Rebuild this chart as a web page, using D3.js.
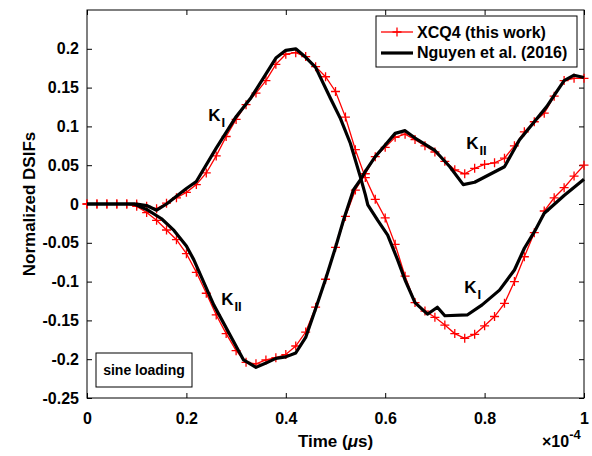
<!DOCTYPE html>
<html>
<head>
<meta charset="utf-8">
<script src="https://cdn.jsdelivr.net/npm/d3@7"></script>
<style>
  body { margin: 0; background: #fff; }
  svg { display: block; font-family: "Liberation Sans", Arial, sans-serif; font-weight: bold; }
</style>
</head>
<body>
<svg width="592" height="456"></svg>
<script>
// time in units of 1e-4 (axis shows x10^-4)
var xcqTime = [0, 0.02, 0.04, 0.06, 0.08, 0.1, 0.12, 0.14, 0.16, 0.18,
    0.2, 0.22, 0.24, 0.26, 0.28, 0.3, 0.32, 0.34, 0.36, 0.38,
    0.4, 0.42, 0.44, 0.46, 0.48, 0.5, 0.52, 0.54, 0.56, 0.58,
    0.6, 0.62, 0.64, 0.66, 0.68, 0.7, 0.72, 0.74, 0.76, 0.78,
    0.8, 0.82, 0.84, 0.86, 0.88, 0.9, 0.92, 0.94, 0.96, 0.98, 1];

var xcqKI = [0, 0, 0, 0, 0, 0, -0.003, -0.006, 0.001, 0.008,
    0.015, 0.025, 0.040, 0.062, 0.087, 0.109, 0.128, 0.143, 0.159, 0.180,
    0.193, 0.195, 0.190, 0.177, 0.164, 0.145, 0.112, 0.070, 0.034, 0.006,
    -0.018, -0.052, -0.093, -0.127, -0.138, -0.146, -0.156, -0.167, -0.173, -0.168,
    -0.157, -0.145, -0.128, -0.100, -0.068, -0.037, -0.009, 0.008, 0.021, 0.036, 0.050];

var xcqKII = [0, 0, 0, 0, 0, -0.003, -0.011, -0.021, -0.0335, -0.046,
    -0.064, -0.088, -0.115, -0.143, -0.167, -0.189, -0.204, -0.206, -0.201, -0.198,
    -0.194, -0.183, -0.165, -0.133, -0.097, -0.056, -0.016, 0.018, 0.039, 0.061,
    0.073, 0.086, 0.090, 0.083, 0.075, 0.067, 0.055, 0.044, 0.039, 0.046,
    0.051, 0.053, 0.059, 0.075, 0.093, 0.106, 0.117, 0.139, 0.159, 0.162, 0.162];

var nguyenKITime = [0, 0.1, 0.12, 0.14, 0.16, 0.2, 0.22, 0.26, 0.3, 0.33,
    0.38, 0.4, 0.42, 0.44, 0.46, 0.49, 0.51, 0.53, 0.55, 0.56,
    0.565, 0.585, 0.605, 0.625, 0.64, 0.66, 0.685, 0.705, 0.72, 0.765,
    0.795, 0.83, 0.86, 0.88, 0.9, 0.92, 0.96, 1];
var nguyenKI = [0, 0, -0.002, -0.008, 0, 0.02, 0.029, 0.072, 0.1125, 0.137,
    0.188, 0.198, 0.2, 0.189, 0.176, 0.136, 0.11, 0.078, 0.035, 0.012,
    -0.001, -0.021, -0.04, -0.072, -0.098, -0.127, -0.142, -0.133, -0.144, -0.143,
    -0.13, -0.111, -0.085, -0.057, -0.036, -0.012, 0.011, 0.032];

var nguyenKIITime = [0, 0.095, 0.12, 0.15, 0.175, 0.2, 0.215, 0.255, 0.315, 0.34,
    0.36, 0.38, 0.4, 0.42, 0.44, 0.46, 0.48, 0.5, 0.516, 0.536,
    0.55, 0.56, 0.58, 0.6, 0.62, 0.64, 0.66, 0.7, 0.73, 0.757,
    0.78, 0.84, 0.87, 0.905, 0.925, 0.94, 0.96, 0.98, 1];
var nguyenKII = [0, 0, -0.007, -0.019, -0.034, -0.054, -0.072, -0.13, -0.201, -0.2105,
    -0.205, -0.199, -0.197, -0.192, -0.172, -0.135, -0.097, -0.056, -0.021, 0.018,
    0.031, 0.042, 0.061, 0.076, 0.091, 0.0945, 0.085, 0.069, 0.048, 0.025,
    0.028, 0.048, 0.0825, 0.11, 0.1255, 0.14, 0.159, 0.166, 0.163];

var xTicks = [0, 0.2, 0.4, 0.6, 0.8, 1];
var yTicks = [-0.25, -0.2, -0.15, -0.1, -0.05, 0, 0.05, 0.1, 0.15, 0.2];

var svg = d3.select("svg"),
    margin = {top: 10, right: 8, bottom: 58, left: 87},
    width = +svg.attr("width") - margin.left - margin.right,
    height = +svg.attr("height") - margin.top - margin.bottom,
    g = svg.append("g").attr("transform", "translate(" + margin.left + "," + margin.top + ")");

var x = d3.scaleLinear().domain([0, 1]).range([0, width]);
var y = d3.scaleLinear().domain([-0.25, 0.25]).range([height, 0]);

var fmt = function(d) { return String(+d.toFixed(2)); };

// axes, ticks pointing inward on all four sides
var ax = g.append("g").attr("transform", "translate(0," + height + ")")
    .call(d3.axisBottom(x).tickValues(xTicks).tickSize(-5).tickPadding(15).tickFormat(fmt));
var ay = g.append("g")
    .call(d3.axisLeft(y).tickValues(yTicks).tickSize(-5).tickPadding(8).tickFormat(fmt));
g.append("g").call(d3.axisTop(x).tickValues(xTicks).tickSize(-5).tickFormat(""));
g.append("g").attr("transform", "translate(" + width + ",0)")
    .call(d3.axisRight(y).tickValues(yTicks).tickSize(-5).tickFormat(""));

g.selectAll(".domain").remove();
g.selectAll(".tick line").attr("stroke", "#000");
g.selectAll(".tick text").attr("font-size", 16).attr("font-family", null).attr("fill", "#000");

g.append("rect")
    .attr("width", width).attr("height", height)
    .attr("fill", "none").attr("stroke", "#000").attr("stroke-width", 1);

function series(tt, vv) {
    return tt.map(function(t, i) { return {t: t, v: vv[i]}; });
}

var line = d3.line()
    .x(function(d) { return x(d.t); })
    .y(function(d) { return y(d.v); });

function plus(cx, cy, r) {
    return "M" + (cx - r) + "," + cy + "h" + (2 * r) + "M" + cx + "," + (cy - r) + "v" + (2 * r);
}

[xcqKI, xcqKII].forEach(function(vals) {
    var data = series(xcqTime, vals);
    g.append("path")
        .datum(data)
        .attr("fill", "none")
        .attr("stroke", "#ff0000")
        .attr("stroke-width", 1.3)
        .attr("d", line);
    g.append("path")
        .attr("fill", "none")
        .attr("stroke", "#ff0000")
        .attr("stroke-width", 1.3)
        .attr("d", data.map(function(d) { return plus(x(d.t), y(d.v), 4.5); }).join(""));
});

[[nguyenKITime, nguyenKI], [nguyenKIITime, nguyenKII]].forEach(function(s) {
    g.append("path")
        .datum(series(s[0], s[1]))
        .attr("fill", "none")
        .attr("stroke", "#000")
        .attr("stroke-width", 3.2)
        .attr("stroke-linejoin", "round")
        .attr("d", line);
});

// curve labels
var labels = [
    {t: 0.244, v: 0.107, sub: "I"},
    {t: 0.763, v: 0.071, sub: "II"},
    {t: 0.27, v: -0.13, sub: "II"},
    {t: 0.759, v: -0.115, sub: "I"}
];
labels.forEach(function(l) {
    var txt = g.append("text")
        .attr("x", x(l.t)).attr("y", y(l.v))
        .attr("font-size", 17);
    txt.append("tspan").text("K");
    txt.append("tspan").attr("dy", 6).attr("dx", 1).attr("font-size", 13).text(l.sub);
});

// legend
var leg = svg.append("g");
leg.append("rect")
    .attr("x", 376).attr("y", 16).attr("width", 201).attr("height", 51)
    .attr("fill", "#fff").attr("stroke", "#000").attr("stroke-width", 1);
leg.append("line").attr("x1", 381).attr("x2", 413).attr("y1", 32).attr("y2", 32)
    .attr("stroke", "#ff0000").attr("stroke-width", 1.3);
leg.append("path").attr("d", plus(397, 32, 4.5))
    .attr("stroke", "#ff0000").attr("stroke-width", 1.3);
leg.append("line").attr("x1", 381).attr("x2", 413).attr("y1", 53).attr("y2", 53)
    .attr("stroke", "#000").attr("stroke-width", 3.2);
leg.append("text").attr("x", 417).attr("y", 38).attr("font-size", 16).text("XCQ4 (this work)");
leg.append("text").attr("x", 417).attr("y", 58).attr("font-size", 16).text("Nguyen et al. (2016)");

// annotation box
svg.append("rect")
    .attr("x", 96).attr("y", 353).attr("width", 96).attr("height", 34)
    .attr("fill", "#fff").attr("stroke", "#000").attr("stroke-width", 1);
svg.append("text").attr("x", 144).attr("y", 375).attr("text-anchor", "middle")
    .attr("font-size", 14).text("sine loading");

// axis titles
svg.append("text")
    .attr("transform", "translate(35," + (margin.top + height / 2) + ") rotate(-90)")
    .attr("text-anchor", "middle").attr("font-size", 17)
    .text("Normalized DSIFs");

var xt = svg.append("text")
    .attr("x", margin.left + width / 2).attr("y", 447)
    .attr("text-anchor", "middle").attr("font-size", 17);
xt.append("tspan").text("Time (");
xt.append("tspan").attr("font-style", "italic").text("\u03bc");
xt.append("tspan").text("s)");

var ex = svg.append("text").attr("x", 542).attr("y", 447).attr("font-size", 16);
ex.append("tspan").text("\u00d710");
ex.append("tspan").attr("dy", -8).attr("font-size", 13).text("-4");
</script>
</body>
</html>
